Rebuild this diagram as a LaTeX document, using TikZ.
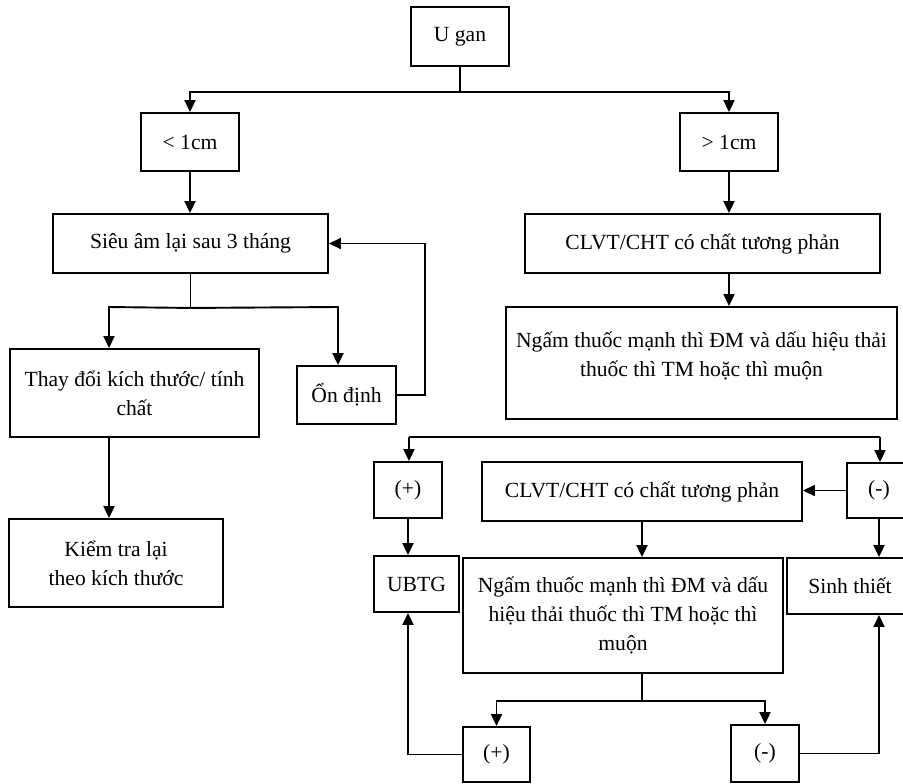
\documentclass[tikz,border=0pt]{standalone}
\usepackage{fontspec}
\setmainfont{Liberation Serif}
\usetikzlibrary{arrows.meta}
\begin{document}
\begin{tikzpicture}[x=0.5pt,y=-0.5pt,
  txt/.style={align=center, font=\fontsize{10.8pt}{14.5pt}\selectfont},
  box/.style={draw, line width=0.95pt, inner sep=0pt, txt},
  ln/.style={line width=0.95pt},
  arr/.style={line width=0.95pt, -{Triangle[length=6pt,width=5.5pt]}}]
\useasboundingbox (0,0) rectangle (903,783);
\begin{scope}
\clip (0,0) rectangle (903,783);
% nodes
\node[box, minimum width=49pt, minimum height=29.5pt] (ugan) at (460,36.5) {U gan};
\node[box, minimum width=49pt, minimum height=29pt] (lt) at (190,142) {< 1cm};
\node[box, minimum width=49pt, minimum height=29pt] (gt) at (729,142) {> 1cm};
\node[box, minimum width=137.5pt, minimum height=29.5pt] (sieuam) at (190.5,243.5) {Siêu âm lại sau 3 tháng};
\node[box, minimum width=177.5pt, minimum height=29.5pt] (clvt1) at (702.5,243.5) {CLVT/CHT có chất tương phản};
\node[box, minimum width=195.5pt, minimum height=56pt,
  label={[txt, yshift=3.5pt]center:{Ngấm thuốc mạnh thì ĐM và dấu hiệu thải\\thuốc thì TM hoặc thì muộn}}] (ngam1) at (701.5,363) {};
\node[box, minimum width=124.5pt, minimum height=44pt] (thaydoi) at (134.5,393) {Thay đổi kích thước/ tính\\chất};
\node[box, minimum width=49.5pt, minimum height=29pt] (ondinh) at (346.5,395) {Ổn định};
\node[box, minimum width=107pt, minimum height=44pt] (kiemtra) at (116,563) {Kiểm tra lại\\theo kích thước};
\node[box, minimum width=34pt, minimum height=28pt] (pos1) at (408,490) {(+)};
\node[box, minimum width=160pt, minimum height=29.5pt] (clvt2) at (642,491.5) {CLVT/CHT có chất tương phản};
\node[box, minimum width=32pt, minimum height=27.5pt] (neg1) at (879,490.5) {(-)};
\node[box, minimum width=42.5pt, minimum height=28pt] (ubtg) at (416.5,584) {UBTG};
\node[box, minimum width=160pt, minimum height=57.5pt] (ngam2) at (623,615.5) {Ngấm thuốc mạnh thì ĐM và dấu\\hiệu thải thuốc thì TM hoặc thì\\muộn};
\node[box, minimum width=63pt, minimum height=28pt] (sinh) at (850,586) {Sinh thiết};
\node[box, minimum width=33.5pt, minimum height=27.5pt] (pos2) at (496.5,754.5) {(+)};
\node[box, minimum width=34pt, minimum height=28.5pt] (neg2) at (765,753.5) {(-)};
% connectors
\draw[ln] (ugan.south) -- ++(0,25) coordinate (j1);
\draw[arr] (j1) -| (lt.north);
\draw[arr] (j1) -| (gt.north);
\draw[arr] (lt.south) -- (lt.south |- sieuam.north);
\draw[arr] (gt.south) -- (gt.south |- clvt1.north);
\draw[arr] (gt.south |- clvt1.south) -- (gt.south |- ngam1.north);
\draw[ln] (sieuam.south) -- ++(0,34) coordinate (j2);
\coordinate (b2l) at (109,307);
\coordinate (b2r) at (338,307);
\draw[arr] (j2) -- (b2l) -- (b2l |- thaydoi.north);
\draw[arr] (j2) -- (b2r) -- (b2r |- ondinh.north);
\draw[arr] (b2l |- thaydoi.south) -- (b2l |- kiemtra.north);
\draw[arr] (ondinh.east) -- ++(28,0) |- (sieuam.east);
\coordinate (h3l) at (409,437);
\coordinate (h3r) at (880,437);
\draw[ln] (h3l) -- (h3r);
\draw[arr] (h3l) -- (h3l |- pos1.north);
\draw[arr] (h3r) -- (h3r |- neg1.north);
\draw[arr] (pos1.south) -- (pos1.south |- ubtg.north);
\draw[arr] (neg1.west) -- (clvt2.east |- neg1.west);
\draw[arr] (neg1.south) -- (neg1.south |- sinh.north);
\draw[arr] (clvt2.south) -- (clvt2.south |- ngam2.north);
\draw[ln] (clvt2.south |- ngam2.south) -- ++(0,27) coordinate (j4);
\draw[arr] (j4) -| (pos2.north);
\draw[arr] (j4) -| (neg2.north);
\draw[arr] (pos2.west) -| (pos1.south |- ubtg.south);
\draw[arr] (neg2.east) -| (neg1.south |- sinh.south);
\end{scope}
\end{tikzpicture}
\end{document}
